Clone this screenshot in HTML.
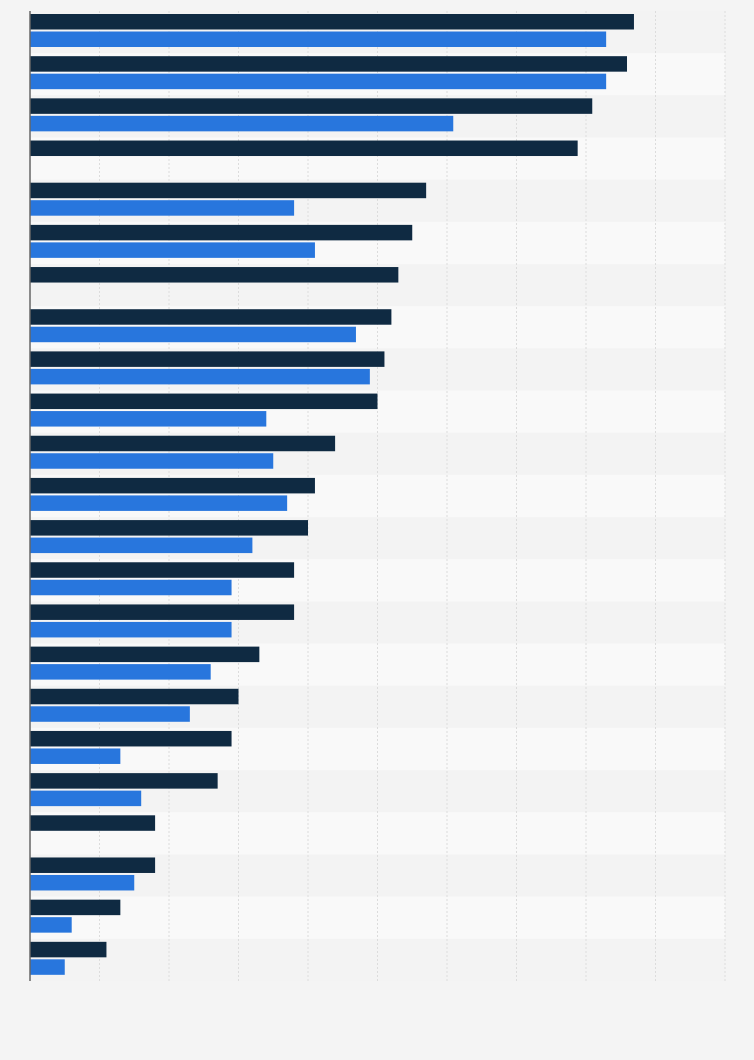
<!DOCTYPE html>
<html><head><meta charset="utf-8"><style>
html,body{margin:0;padding:0;background:#f4f4f4;width:754px;height:1060px;overflow:hidden;font-family:"Liberation Sans",sans-serif}
</style></head><body>
<svg id="chart" width="754" height="1060" xmlns="http://www.w3.org/2000/svg">
<rect width="754" height="1060" fill="#f4f4f4"/>
<g id="bands"></g><g id="grid"></g><g id="bars"></g>
<line x1="30" y1="11" x2="30" y2="981" stroke="#666" stroke-width="1.5"/>
</svg>
<script>
const categories = ["c1","c2","c3","c4","c5","c6","c7","c8","c9","c10","c11","c12","c13","c14","c15","c16","c17","c18","c19","c20","c21","c22","c23"];
const seriesA = [86.9,85.9,80.9,78.8,57,55,53,52,51,50,43.9,41,40,38,38,33,30,29,27,18,18,13,11];
const seriesB = [82.9,82.9,60.9,null,38,41,null,46.9,48.9,34,35,37,32,29,29,26,23,13,16,null,15,6,5];
const xTicks = [0,10,20,30,40,50,60,70,80,90,100];
const NS="http://www.w3.org/2000/svg";
const plotX0=30,plotX1=725,plotTop=11,plotBottom=981;
const xs=v=>plotX0+(v/100)*(plotX1-plotX0);
const bandH=(plotBottom-plotTop)/categories.length;
const ys=i=>plotTop+i*bandH;
function mk(t,a,p){const e=document.createElementNS(NS,t);for(const k in a)e.setAttribute(k,a[k]);p.appendChild(e);return e;}
const bandsG=document.getElementById('bands'),gridG=document.getElementById('grid'),barsG=document.getElementById('bars');
categories.forEach((c,i)=>{
  const r=mk('rect',{x:plotX0,y:ys(i),width:plotX1-plotX0,height:bandH,fill:i%2?'#f9f9f9':'#f3f3f3'},bandsG);
  
  
});
xTicks.forEach(t=>{
  if(t===0)return;
  const l=mk('line',{x1:xs(t),x2:xs(t),y1:plotTop,y2:plotBottom,stroke:'#dcdcdc','stroke-dasharray':'2,2'},gridG);
  
  
});
categories.forEach((c,i)=>{
  const y=ys(i);
  const a=mk('rect',{x:plotX0,y:y+3,width:xs(seriesA[i])-plotX0,height:15.5,fill:'#0f2a42'},barsG);
  
  
  if(seriesB[i]!==null){
    const b=mk('rect',{x:plotX0,y:y+20.5,width:xs(seriesB[i])-plotX0,height:15.5,fill:'#2876dd'},barsG);
    
    
  }
});
</script>
</body></html>
